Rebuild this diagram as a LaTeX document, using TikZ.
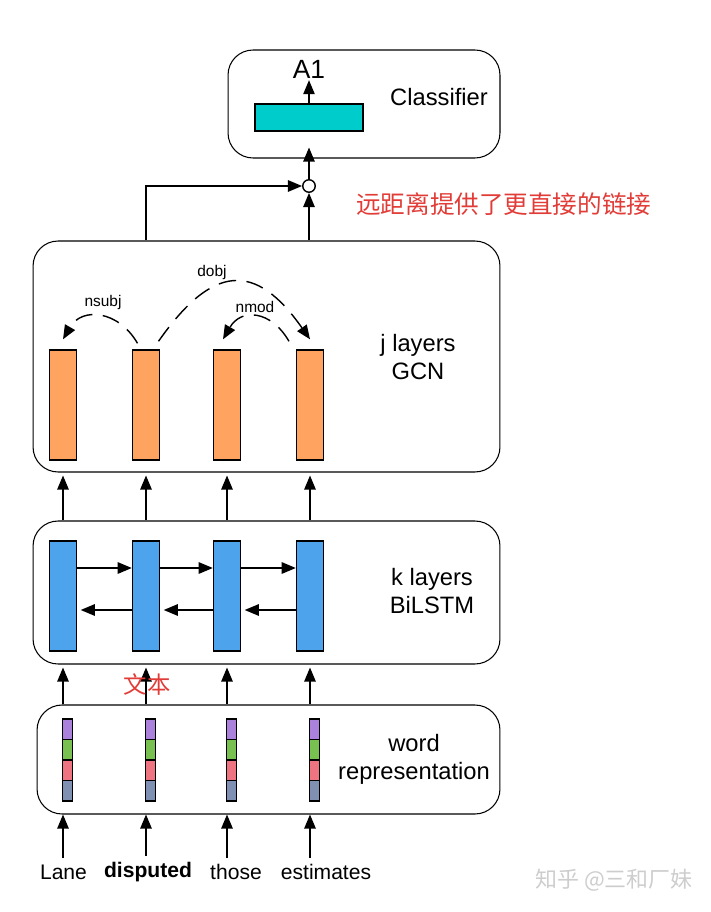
\documentclass[tikz,border=0pt]{standalone}
\usepackage{fontspec}
\setmainfont{Liberation Sans}
\newfontfamily\cjk{Noto Sans CJK SC}
\usetikzlibrary{arrows.meta}

\definecolor{clsteal}{RGB}{0,204,204}
\definecolor{gcnorange}{RGB}{255,163,96}
\definecolor{lstmblue}{RGB}{77,163,236}
\definecolor{wpurple}{RGB}{170,130,220}
\definecolor{wgreen}{RGB}{120,192,80}
\definecolor{wpink}{RGB}{238,116,130}
\definecolor{wgrey}{RGB}{128,144,178}
\definecolor{notered}{RGB}{225,60,55}
\definecolor{markgrey}{RGB}{205,205,205}

\begin{document}
\begin{tikzpicture}[x=0.02cm,y=-0.02cm,
        arr/.style={-{Triangle[length=8pt,width=6.5pt]}, line width=0.8pt},
        dep/.style={arr, dash pattern=on 10pt off 6pt},
        layerbox/.style={draw, line width=0.6pt, rounded corners=0.5cm, inner sep=0},
        gcnbar/.style={draw, line width=0.8pt, fill=gcnorange, minimum width=0.54cm, minimum height=2.2cm, inner sep=0},
        lstmbar/.style={gcnbar, fill=lstmblue},
        lbl/.style={font=\fontsize{13.5}{16}\selectfont, align=center},
        deplbl/.style={font=\fontsize{8.8}{10}\selectfont},
        word/.style={font=\fontsize{12}{14}\selectfont},
        note/.style={text=notered, font=\cjk\fontsize{14}{16}\selectfont}]
    \useasboundingbox (0,0) rectangle (710,912);

    % layer boxes
    \node[layerbox, minimum width=5.44cm, minimum height=2.16cm] (cls) at (364,104) {};
    \node[layerbox, minimum width=9.34cm, minimum height=4.62cm] (gcn) at (266.5,356.5) {};
    \node[layerbox, minimum width=9.34cm, minimum height=2.86cm] (lstm) at (266.5,592.5) {};
    \node[layerbox, minimum width=9.26cm, minimum height=2.18cm] (wr) at (268.5,759.5) {};

    \node[lbl] at (439,97) {Classifier};
    \node[lbl] at (418,357) {j layers\\GCN};
    \node[lbl] at (432,591) {k layers\\BiLSTM};
    \node[lbl] at (414,759) {word\\representation};

    % classifier
    \node[draw, line width=0.8pt, fill=clsteal, minimum width=2.16cm, minimum height=0.54cm] (out) at (309,117.5) {};
    \node[font=\fontsize{15}{17}\selectfont, inner sep=1pt] (a1) at (309,69) {A1};
    \draw[arr] (out) -- (a1);

    % words
    \node[word] (w1) at (63.5,872) {Lane};
    \node[word, font=\fontsize{12}{14}\selectfont\bfseries] (w2) at (148,872) {disputed};
    \node[word] (w3) at (236,872) {those};
    \node[word] (w4) at (326,872) {estimates};

    \foreach \x [count=\i] in {63,146,227,310} {
        \node[gcnbar] (g\i) at (\x,405) {};
        \node[lstmbar] (l\i) at (\x,596) {};
        \draw[arr] (l\i |- lstm.north) -- ([yshift=-0.06cm]l\i |- gcn.south);
        \draw[arr] (l\i |- wr.north) -- ([yshift=-0.06cm]l\i |- lstm.south);
        \draw[arr] (l\i |- w\i.north) -- (l\i |- wr.south);
        \foreach \c [count=\j] in {wpurple,wgreen,wpink,wgrey}
            \draw[line width=0.8pt, fill=\c] (\x-0.5,698.5+20.5*\j) rectangle +(10,20.5);
    }

    % BiLSTM directions
    \foreach \i/\j in {1/2,2/3,3/4} {
        \draw[arr] ([yshift=0.56cm]l\i.east) -- ([yshift=0.56cm]l\j.west); % forward
        \draw[arr] ([yshift=-0.28cm]l\j.west) -- ([yshift=-0.28cm,xshift=2pt]l\i.east); % backward
    }

    % dependency edges
    \draw[dep] ([xshift=-0.17cm,yshift=0.12cm]g2.north) to[out=120,in=60,looseness=1.3] ([yshift=0.2cm]g1.north);
    \draw[dep] ([xshift=0.25cm,yshift=0.16cm]g2.north) to[out=55,in=125,looseness=1.6] ([yshift=0.2cm]g4.north);
    \draw[dep] ([xshift=-0.42cm,yshift=0.16cm]g4.north) to[out=120,in=60,looseness=1.4] ([xshift=-0.08cm,yshift=0.2cm]g3.north);
    \node[deplbl] at (103,303) {nsubj};
    \node[deplbl] at (212,273) {dobj};
    \node[deplbl] at (255,307) {nmod};

    % combining
    \node[draw, circle, line width=0.8pt, minimum size=0.25cm, inner sep=0] (circ) at (309,186) {};
    \draw[arr] (circ) -- ([yshift=0.22cm]circ |- cls.south);
    \draw[arr] (gcn.north -| circ) -- (circ);
    \draw[arr] (gcn.north -| g2) |- (circ.west);

    \node[note, anchor=west] at (350,204) {远距离提供了更直接的链接};
    \node[note, font=\cjk\fontsize{13.3}{15}\selectfont] at (147,685) {文本};
    \node[text=markgrey, font=\cjk\fontsize{12.5}{14}\selectfont] at (614,880) {知乎 @三和厂妹};
\end{tikzpicture}
\end{document}
